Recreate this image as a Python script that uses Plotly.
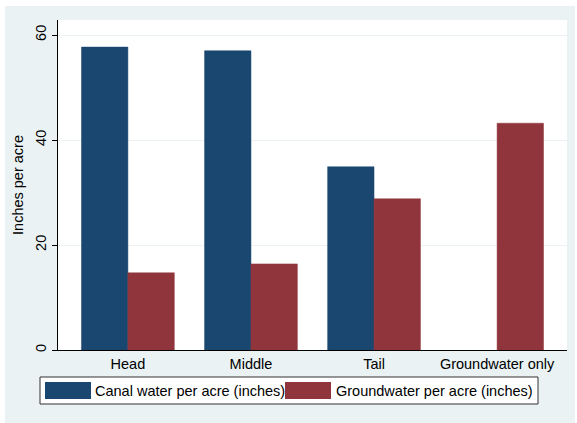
import plotly.graph_objects as go

categories = ["Head", "Middle", "Tail", "Groundwater only"]
canal_water = [57.7, 57.0, 34.9, None]
groundwater = [14.7, 16.4, 28.8, 43.2]
series_names = ["Canal water per acre (inches)", "Groundwater per acre (inches)"]
y_ticks = [0, 20, 40, 60]
y_title = "Inches per acre"

NAVY = "#1A476F"
MAROON = "#90353B"
BG = "#EAF2F3"
FONT = "Arial, Liberation Sans, sans-serif"

fig = go.Figure()
fig.add_trace(go.Bar(x=categories, y=canal_water, name=series_names[0],
                     marker=dict(color=NAVY, line=dict(color=NAVY, width=0.5)),
                     showlegend=False))
fig.add_trace(go.Bar(x=categories, y=groundwater, name=series_names[1],
                     marker=dict(color=MAROON, line=dict(color=MAROON, width=0.5)),
                     showlegend=False))

W, H = 577, 423
L, R, T, B = 58, 10, 20, 73
pw, ph = W - L - R, H - T - B

def px(x):
    return (x - L) / pw

def py(y):
    return (H - B - y) / ph

shapes = [
    dict(type="rect", xref="paper", yref="paper", layer="below",
         x0=px(5), x1=px(575), y0=py(423), y1=py(6),
         fillcolor=BG, line=dict(width=0)),
    dict(type="rect", xref="paper", yref="paper", layer="below",
         x0=0, x1=1, y0=0, y1=1, fillcolor="white", line=dict(width=0)),
    # legend box
    dict(type="rect", xref="paper", yref="paper",
         x0=px(40), x1=px(538), y0=py(404), y1=py(377),
         fillcolor="white", line=dict(color="#333333", width=1)),
    dict(type="rect", xref="paper", yref="paper",
         x0=px(45), x1=px(91), y0=py(399), y1=py(382),
         fillcolor=NAVY, line=dict(width=0)),
    dict(type="rect", xref="paper", yref="paper",
         x0=px(285), x1=px(331), y0=py(399), y1=py(382),
         fillcolor=MAROON, line=dict(width=0)),
]
annotations = [
    dict(text=series_names[0], xref="paper", yref="paper", x=px(93), y=py(390.5),
         xanchor="left", yanchor="middle", showarrow=False,
         font=dict(family=FONT, size=14.5, color="black")),
    dict(text=series_names[1], xref="paper", yref="paper", x=px(334), y=py(390.5),
         xanchor="left", yanchor="middle", showarrow=False,
         font=dict(family=FONT, size=14.5, color="black")),
]

fig.update_layout(
    width=W, height=H,
    margin=dict(l=L, r=R, t=T, b=B, autoexpand=False),
    paper_bgcolor="white", plot_bgcolor="rgba(0,0,0,0)",
    barmode="group", bargap=0.246, bargroupgap=0,
    font=dict(family=FONT, size=14.5, color="black"),
    shapes=shapes, annotations=annotations,
    xaxis=dict(type="category", range=[-0.568, 3.568], showgrid=False,
               showline=True, linecolor="black", linewidth=1.2,
               ticks="", tickfont=dict(size=14.5), fixedrange=True),
    yaxis=dict(range=[0, 62.86], tickvals=y_ticks, ticks="outside", ticklen=5,
               tickcolor="black", tickangle=-90, showline=True, linecolor="black",
               linewidth=1.2, showgrid=True, gridcolor=BG, gridwidth=1,
               zeroline=False, tickfont=dict(size=14.5), fixedrange=True,
               title=dict(text=y_title, font=dict(size=14.5), standoff=6)),
)

fig.write_html("out.html", config={"displayModeBar": False},
               post_script="document.body.style.margin='0';document.body.style.padding='0';")
